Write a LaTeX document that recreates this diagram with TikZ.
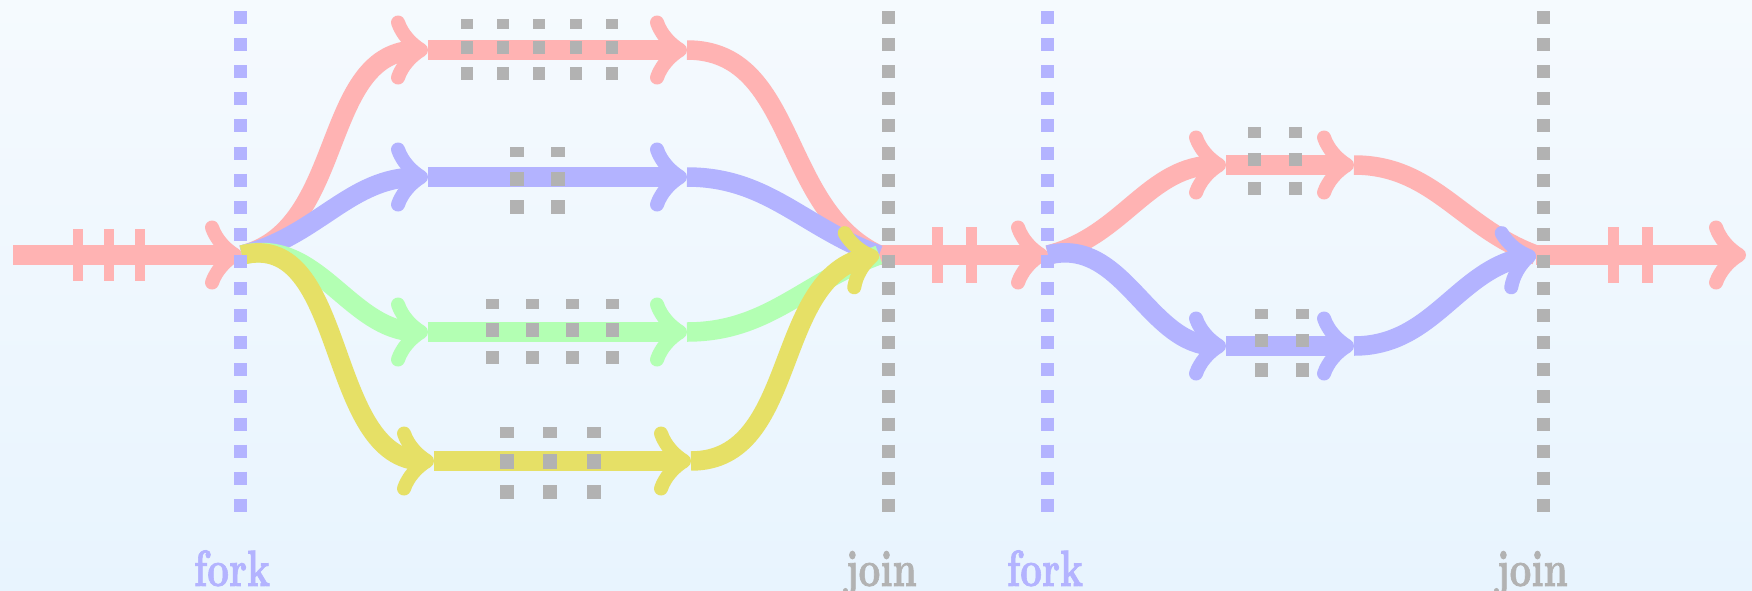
\documentclass[tikz,border=0pt]{standalone}
\usepackage{fontspec}
\usepackage{graphicx}
\usetikzlibrary{arrows.meta}
\newfontfamily\lblfont{lmroman10-bold.otf}[FakeBold=1.5]
\definecolor{cpink}{RGB}{255,179,179}
\definecolor{cblue}{RGB}{179,179,255}
\definecolor{cgreen}{RGB}{179,255,179}
\definecolor{cyellow}{RGB}{230,224,102}
\definecolor{cgray}{RGB}{178,178,178}
\definecolor{bgtop}{RGB}{245,250,254}
\definecolor{bgbot}{RGB}{232,244,254}
\pgfdeclarearrow{
  name = FatBarb,
  setup code = {
    \pgfarrowssettipend{7pt}
    \pgfarrowssetlineend{-3pt}
    \pgfarrowssetbackend{-30pt}
    \pgfarrowshullpoint{7pt}{0pt}
    \pgfarrowshullpoint{-30pt}{35pt}
    \pgfarrowshullpoint{-30pt}{-35pt}
  },
  drawing code = {
    \pgfsetlinewidth{14pt}
    \pgfsetroundcap
    \pgfsetroundjoin
    \pgfpathmoveto{\pgfqpoint{-23pt}{27.5pt}}
    \pgfpathcurveto{\pgfqpoint{-19pt}{16pt}}{\pgfqpoint{-10pt}{6pt}}{\pgfqpoint{0pt}{0pt}}
    \pgfpathcurveto{\pgfqpoint{-10pt}{-6pt}}{\pgfqpoint{-19pt}{-16pt}}{\pgfqpoint{-23pt}{-27.5pt}}
    \pgfusepathqstroke
  }
}
\newcommand{\lbltext}[1]{\scalebox{0.745}[1]{#1}}
\begin{document}
\begin{tikzpicture}[x=1pt,y=-1pt,
  flow/.style={line width=19.5pt},
  arr/.style={-{FatBarb}},
  forkline/.style={cblue,line width=13pt,dash pattern=on 13pt off 14.1pt},
  joinline/.style={cgray,line width=13pt,dash pattern=on 13pt off 14.1pt},
  tick/.style={fill=cpink},
  work/.style={fill=cgray},
  lbl/.style={anchor=base,inner sep=0pt,font=\fontsize{51}{60}\lblfont}]
\useasboundingbox (0,0) rectangle (1752,590);
\shade[top color=bgtop,bottom color=bgbot] (0,0) rectangle (1752,590);
% coordinates
\coordinate (in) at (13,255);
\coordinate (F1) at (242,255);
\coordinate (p1) at (428,50);  \coordinate (p2) at (687,50);
\coordinate (b1) at (428,177); \coordinate (b2) at (687,177);
\coordinate (g1) at (428,332); \coordinate (g2) at (687,332);
\coordinate (y1) at (434,461); \coordinate (y2) at (691,461);
\coordinate (J1) at (879,255);
\coordinate (F2) at (1048,255);
\coordinate (q1) at (1226,165); \coordinate (q2) at (1354,165);
\coordinate (r1) at (1226,346); \coordinate (r2) at (1354,346);
\coordinate (J2) at (1536,255);
\coordinate (out) at (1746,255);
% main line
\draw[flow,cpink,arr] (in) -- (F1);
\draw[flow,cpink,arr] (J1) -- (F2);
\draw[flow,cpink,arr] (J2) -- (out);
\foreach \x in {78,109,140} \fill[tick] (\x-5,229) rectangle (\x+5,281);
\foreach \x in {937,971,1613,1647} \fill[tick] (\x-5.5,227) rectangle (\x+5.5,283);
% first fork
\draw[flow,cpink,arr] (F1) to[out=14,in=180] (p1);
\draw[flow,cpink,arr] (p1) -- (p2);
\draw[flow,cpink] (p2) to[out=0,in=155] (J1);
\draw[flow,cblue,arr] (F1) to[out=14,in=180] (b1);
\draw[flow,cblue,arr] (b1) -- (b2);
\draw[flow,cblue] (b2) to[out=0,in=160] (J1);
\draw[flow,cgreen,arr] (F1) to[out=14,in=180] (g1);
\draw[flow,cgreen,arr] (g1) -- (g2);
\draw[flow,cgreen] (g2) to[out=0,in=200] (J1);
\draw[flow,cyellow,arr] (F1) to[out=14,in=180] (y1);
\draw[flow,cyellow,arr] (y1) -- (y2);
\draw[flow,cyellow,arr] (y2) to[out=0,in=190] (J1);
% second fork
\draw[flow,cpink,arr] (F2) to[out=14,in=180] (q1);
\draw[flow,cpink,arr] (q1) -- (q2);
\draw[flow,cpink] (q2) to[out=0,in=160] (J2);
\draw[flow,cblue,arr] (F2) to[out=14,in=180] (r1);
\draw[flow,cblue,arr] (r1) -- (r2);
\draw[flow,cblue,arr] (r2) to[out=0,in=190] (J2);
% work markers
\foreach \x in {466.7,503,539.3,576,612.3} {
  \fill[work] (\x-6,19.3) rectangle (\x+6,28.7);
  \fill[work] (\x-6,41.3) rectangle (\x+6,54.3);
  \fill[work] (\x-6,67) rectangle (\x+6,80);}
\foreach \x in {517,558} {
  \fill[work] (\x-7,147) rectangle (\x+7,157);
  \fill[work] (\x-7,172) rectangle (\x+7,186);
  \fill[work] (\x-7,200) rectangle (\x+7,214);}
\foreach \x in {492,532,572,612} {
  \fill[work] (\x-6.5,299) rectangle (\x+6.5,309);
  \fill[work] (\x-6.5,323) rectangle (\x+6.5,337);
  \fill[work] (\x-6.5,351) rectangle (\x+6.5,364);}
\foreach \x in {507,550,594} {
  \fill[work] (\x-7.3,427) rectangle (\x+7.3,438);
  \fill[work] (\x-7.3,454) rectangle (\x+7.3,469);
  \fill[work] (\x-7.3,485) rectangle (\x+7.3,499);}
\foreach \x in {1254,1295} {
  \fill[work] (\x-6.5,127) rectangle (\x+6.5,138);
  \fill[work] (\x-6.5,153) rectangle (\x+6.5,166);
  \fill[work] (\x-6.5,182) rectangle (\x+6.5,195);}
\foreach \x in {1261,1302} {
  \fill[work] (\x-6.5,309) rectangle (\x+6.5,319);
  \fill[work] (\x-6.5,334) rectangle (\x+6.5,347);
  \fill[work] (\x-6.5,363) rectangle (\x+6.5,377);}
% fork / join lines
\draw[forkline] (240,11) -- (240,512);
\draw[joinline] (888,11) -- (888,512);
\draw[forkline] (1047,11) -- (1047,512);
\draw[joinline] (1543,11) -- (1543,512);
% labels
\node[lbl,text=cblue] (lf1) at (232,586) {\lbltext{fork}};
\node[lbl,text=cgray] (lj1) at (881,586) {\lbltext{join}};
\node[lbl,text=cblue] (lf2) at (1045,586) {\lbltext{fork}};
\node[lbl,text=cgray] (lj2) at (1532,586) {\lbltext{join}};
\end{tikzpicture}
\end{document}
